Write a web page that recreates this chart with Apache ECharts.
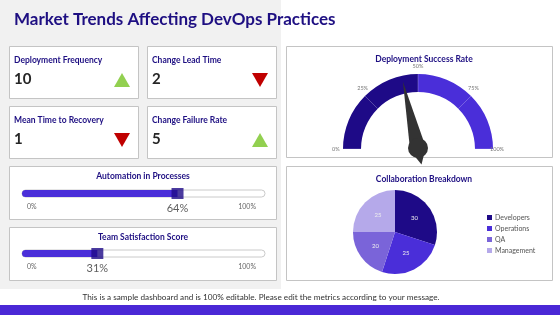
<!DOCTYPE html>
<html><head><meta charset="utf-8">
<script src="https://cdn.jsdelivr.net/npm/echarts@6/dist/echarts.min.js"></script>
<style>html,body{margin:0;padding:0;background:#fff}#c{width:560px;height:315px}</style>
</head><body><div id="c"></div>
<script>
// ---- data ----
const kpiNames = ['Deployment Frequency', 'Change Lead Time', 'Mean Time to Recovery', 'Change Failure Rate'];
const kpiValues = [10, 2, 1, 5];
const kpiTrends = ['up', 'down', 'down', 'up'];
const gaugeTitle = 'Deployment Success Rate';
const gaugeValue = 43;
const gaugeTicks = [0, 25, 50, 75, 100];
const sliderNames = ['Automation in Processes', 'Team Satisfaction Score'];
const sliderValues = [64, 31];
const pieTitle = 'Collaboration Breakdown';
const pieCategories = ['Developers', 'Operations', 'QA', 'Management'];
const pieValues = [30, 25, 20, 25];
const footerText = 'This is a sample dashboard and is 100% editable. Please edit the metrics according to your message.';

const NAVY = '#1E0F82';
const FONT = 'Lato, "Open Sans", sans-serif';
const pieColors = ['#1E0A87', '#4A2ED9', '#7A64D9', '#B5A9EA'];

const chart = echarts.init(document.getElementById('c'), null, {renderer: 'canvas'});

const graphic = [];
graphic.push({type: 'rect', shape: {x: 0, y: 0, width: 281, height: 289}, style: {fill: '#F1F1F1'}, z: -10});
graphic.push({type: 'rect', shape: {x: 0, y: 305, width: 560, height: 10}, style: {fill: '#4A28D6'}, z: -10});
graphic.push({type: 'text', x: 14, y: 11, style: {text: 'Market Trends Affecting DevOps Practices', font: 'bold 17px ' + FONT, fill: NAVY}});
graphic.push({type: 'text', x: 261, y: 293, style: {text: footerText, font: '8.2px ' + FONT, fill: '#333', align: 'center'}});

function card(x, y, w, h) {
  graphic.push({type: 'rect', shape: {x: x + 0.5, y: y + 0.5, width: w, height: h}, style: {fill: '#fff', stroke: '#C4C4C4', lineWidth: 1}, z: -5});
}
const kpiPos = [[9, 46], [147, 46], [9, 106], [147, 106]];
kpiNames.forEach((n, i) => {
  const [x, y] = kpiPos[i];
  card(x, y, 129, 52);
  graphic.push({type: 'text', x: x + 5, y: y + 10, style: {text: n, font: 'bold 8.5px ' + FONT, fill: NAVY}});
  graphic.push({type: 'text', x: x + 5, y: y + 26, style: {text: String(kpiValues[i]), font: 'bold 15px ' + FONT, fill: '#262626'}});
  const cx = x + 113, cy = y + 34;
  const pts = kpiTrends[i] === 'up'
    ? [[cx - 8, cy + 7], [cx + 8, cy + 7], [cx, cy - 7]]
    : [[cx - 8, cy - 7], [cx + 8, cy - 7], [cx, cy + 7]];
  graphic.push({type: 'polygon', shape: {points: pts}, style: {fill: kpiTrends[i] === 'up' ? '#92D050' : '#C00000'}});
});
card(286, 46, 266, 111);
card(9, 166, 267, 53);
card(9, 227, 267, 53);
card(286, 166, 266, 114);

const sliderTop = [190, 250];
sliderNames.forEach((n, i) => {
  const y0 = [166, 227][i];
  graphic.push({type: 'text', x: 143, y: y0 + 6, style: {text: n, font: 'bold 8.5px ' + FONT, fill: NAVY, align: 'center'}});
  graphic.push({type: 'text', x: 27, y: sliderTop[i] + 13, style: {text: '0%', font: '7px ' + FONT, fill: '#666'}});
  graphic.push({type: 'text', x: 256, y: sliderTop[i] + 13, style: {text: '100%', font: '7px ' + FONT, fill: '#666', align: 'right'}});
});

const titles = [
  {text: gaugeTitle, left: 419, top: 50, textAlign: 'center', textStyle: {fontFamily: FONT, fontSize: 8.5, fontWeight: 'bold', color: NAVY}},
  {text: pieTitle, left: 419, top: 170, textAlign: 'center', textStyle: {fontFamily: FONT, fontSize: 8.5, fontWeight: 'bold', color: NAVY}}
];

const grids = [], xAxes = [], yAxes = [], series = [];
sliderValues.forEach((v, i) => {
  grids.push({left: 22, width: 243, top: sliderTop[i], height: 7});
  xAxes.push({type: 'value', gridIndex: i, min: 0, max: 100, show: false});
  yAxes.push({type: 'category', gridIndex: i, data: [sliderNames[i]], show: false});
  series.push({
    type: 'bar', xAxisIndex: i, yAxisIndex: i, data: [v], barWidth: 7,
    itemStyle: {color: '#4A2ED9', borderRadius: [4, 0, 0, 4]},
    showBackground: true,
    backgroundStyle: {color: '#fff', borderColor: '#BDBDBD', borderWidth: 0.8, borderRadius: 4},
    silent: true, animation: false
  });
  series.push({
    type: 'scatter', xAxisIndex: i, yAxisIndex: i, data: [[v, sliderNames[i]]],
    symbol: 'rect', symbolSize: [12, 11], itemStyle: {color: '#1E0A87'},
    label: {show: true, position: 'bottom', distance: 4, formatter: p => p.value[0] + '%', fontFamily: FONT, fontSize: 11, color: '#333'},
    z: 5, animation: false
  });
});

series.push({
  type: 'gauge', center: [418, 149], radius: 75, startAngle: 180, endAngle: 0, min: 0, max: 100,
  splitNumber: gaugeTicks.length - 1,
  axisLine: {lineStyle: {width: 18, color: [[0.5, '#1E0A87'], [1, '#4A2ED9']]}},
  splitLine: {show: true, length: 18, distance: -18, lineStyle: {color: 'rgba(255,255,255,0.25)', width: 1}},
  axisTick: {show: false},
  axisLabel: {distance: -11, fontSize: 5.5, color: '#777', fontFamily: FONT, formatter: v => gaugeTicks.includes(Math.round(v)) ? Math.round(v) + '%' : ''},
  pointer: {length: '92%', width: 8, offsetCenter: [0, 0], itemStyle: {color: '#333'}},
  anchor: {show: true, size: 20, showAbove: true, offsetCenter: [0, -1], itemStyle: {color: '#333'}},
  title: {show: false}, detail: {show: false},
  data: [{value: gaugeValue}], animation: false
});

series.push({
  type: 'pie', center: [395, 232], radius: 42, startAngle: 90, clockwise: true,
  data: pieCategories.map((c, i) => ({name: c, value: pieValues[i], itemStyle: {color: pieColors[i]}})),
  label: {show: true, position: 'inside', formatter: '{c}', fontSize: 6, color: '#eee', fontFamily: FONT},
  labelLine: {show: false}, itemStyle: {borderWidth: 0}, animation: false
});

chart.setOption({
  animation: false,
  title: titles,
  legend: {
    orient: 'vertical', left: 482, top: 209, itemWidth: 5, itemHeight: 5, itemGap: 4, icon: 'rect',
    data: pieCategories, textStyle: {fontSize: 7, color: '#555', fontFamily: FONT, padding: [0, 0, 0, -2]}
  },
  grid: grids, xAxis: xAxes, yAxis: yAxes, series: series, graphic: graphic
});
</script></body></html>
